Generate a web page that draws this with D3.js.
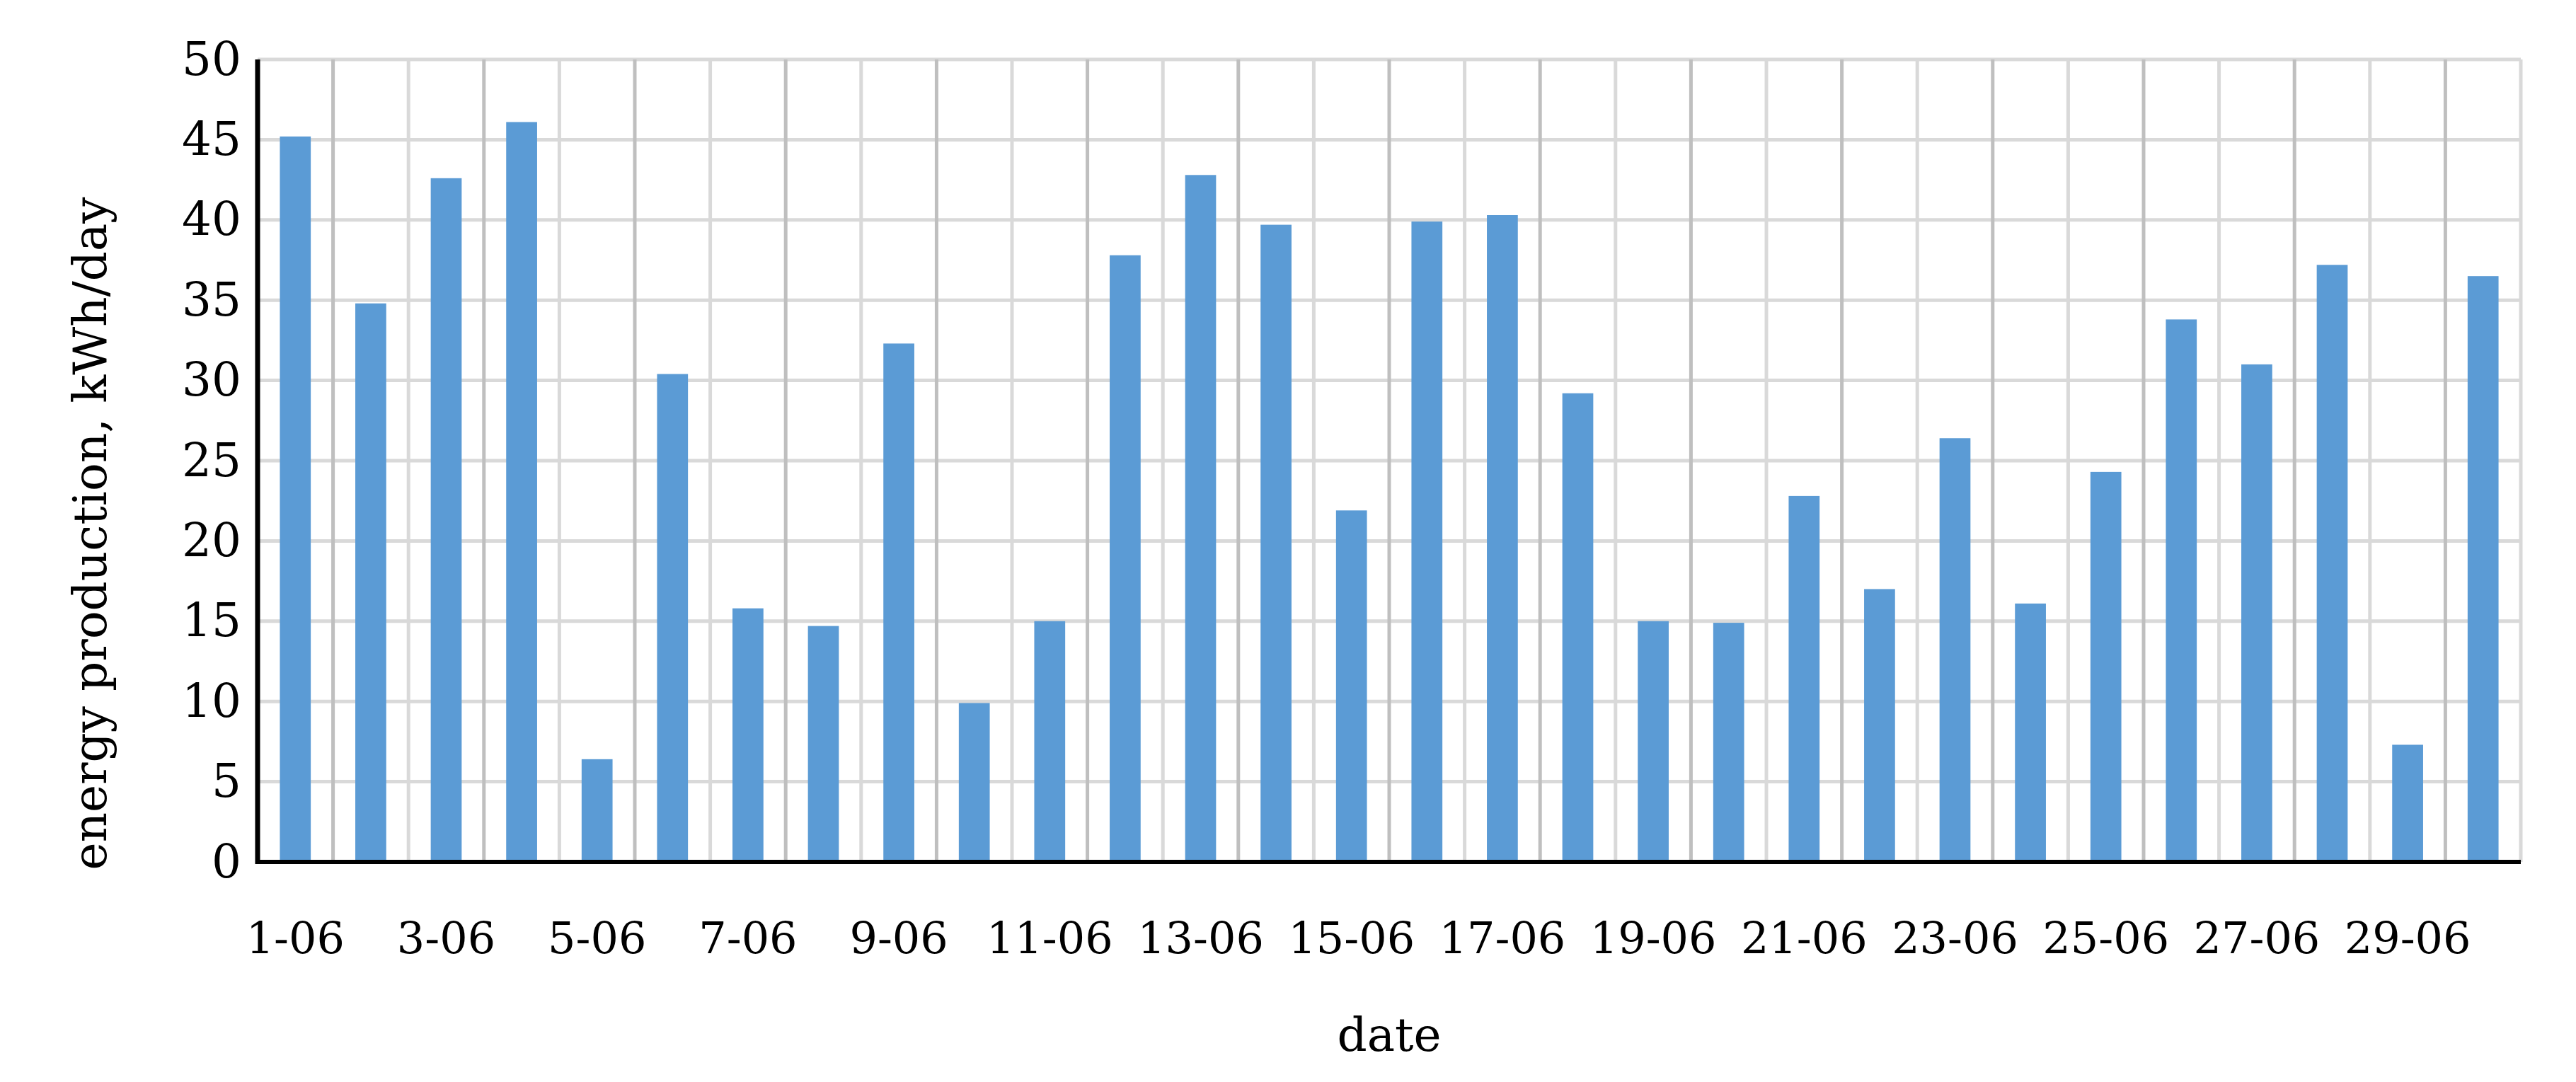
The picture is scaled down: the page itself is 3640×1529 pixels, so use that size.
<!DOCTYPE html>
<html>
<head>
<meta charset="utf-8">
<script src="https://cdn.jsdelivr.net/npm/d3@7"></script>
<style>body{margin:0;background:#fff}</style>
</head>
<body>
<svg id="chart" width="3640" height="1529"></svg>
<script>
// daily energy production, June
var days = d3.range(1, 31).map(function (d) { return d + "-06"; });
var values = [45.2, 34.8, 42.6, 46.1, 6.4, 30.4, 15.8, 14.7, 32.3, 9.9,
              15.0, 37.8, 42.8, 39.7, 21.9, 39.9, 40.3, 29.2, 15.0, 14.9,
              22.8, 17.0, 26.4, 16.1, 24.3, 33.8, 31.0, 37.2, 7.3, 36.5];
var yTicks = [0, 5, 10, 15, 20, 25, 30, 35, 40, 45, 50];

var m = {left: 364, top: 84, right: 3562, bottom: 1218};
var svg = d3.select("#chart");
var font = "'DejaVu Serif', serif";

var x = d3.scaleBand().domain(days).range([m.left, m.right]).paddingInner(0.59).paddingOuter(0.295);
var y = d3.scaleLinear().domain([0, 50]).range([m.bottom, m.top]);
var step = x.step();

// horizontal grid
svg.append("g").selectAll("line").data(yTicks.slice(1)).enter().append("line")
    .attr("x1", m.left).attr("x2", m.right)
    .attr("y1", function (d) { return y(d); }).attr("y2", function (d) { return y(d); })
    .attr("stroke", "#d9d9d9").attr("stroke-width", 5);

// vertical grid at band boundaries
svg.append("g").selectAll("line").data(d3.range(1, days.length + 1)).enter().append("line")
    .attr("x1", function (i) { return m.left + i * step; })
    .attr("x2", function (i) { return m.left + i * step; })
    .attr("y1", m.top).attr("y2", m.bottom)
    .attr("stroke", function (i) { return i % 2 === 1 && i < days.length ? "#bfbfbf" : "#d9d9d9"; })
    .attr("stroke-width", 5);

svg.append("g").selectAll("rect").data(values).enter().append("rect")
    .attr("x", function (d, i) { return x(days[i]); })
    .attr("width", x.bandwidth())
    .attr("y", function (d) { return y(d); })
    .attr("height", function (d) { return y(0) - y(d); })
    .attr("fill", "#5b9bd5");

// axes lines
svg.append("line").attr("x1", m.left).attr("x2", m.left).attr("y1", m.top).attr("y2", m.bottom + 3)
    .attr("stroke", "#000").attr("stroke-width", 7);
svg.append("line").attr("x1", m.left).attr("x2", m.right).attr("y1", m.bottom).attr("y2", m.bottom)
    .attr("stroke", "#000").attr("stroke-width", 6);

var yAxis = svg.append("g").attr("transform", "translate(341,0)")
    .call(d3.axisLeft(y).tickValues(yTicks).tickSize(0).tickPadding(0));
yAxis.select(".domain").remove();
yAxis.selectAll("text").attr("font-family", font).attr("font-size", 66).attr("fill", "#000")
    .attr("text-anchor", "end").attr("x", 0);

var xAxis = svg.append("g").attr("transform", "translate(0," + m.bottom + ")")
    .call(d3.axisBottom(x).tickValues(days.filter(function (d, i) { return i % 2 === 0; }))
        .tickSize(0).tickPadding(85));
xAxis.select(".domain").remove();
xAxis.selectAll("text").attr("font-family", font).attr("font-size", 62).attr("fill", "#000");

svg.append("text").attr("x", (m.left + m.right) / 2).attr("y", 1485)
    .attr("text-anchor", "middle").attr("font-family", font).attr("font-size", 66).text("date");

svg.append("text").attr("transform", "translate(150,754) rotate(-90)")
    .attr("text-anchor", "middle").attr("font-family", font).attr("font-size", 66)
    .text("energy production, kWh/day");
</script>
</body>
</html>
